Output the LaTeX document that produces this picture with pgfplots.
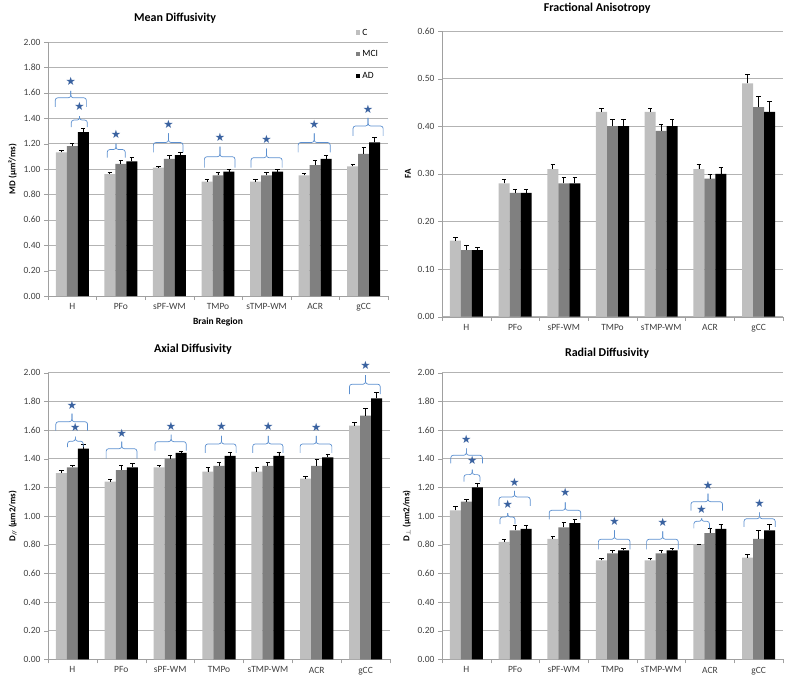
\documentclass[border=0pt]{standalone}
\usepackage{pgfplots}
\pgfplotsset{compat=1.18}
\usepackage{pgfplotstable}
\usepackage{fontspec}
\setmainfont{Carlito}
\newfontfamily\starfont{DejaVu Sans}
\definecolor{cC}{HTML}{BFBFBF}
\definecolor{cM}{HTML}{808080}
\definecolor{cA}{HTML}{000000}
\definecolor{bracecol}{HTML}{5B8FCF}
\definecolor{starcol}{HTML}{3A62A0}
\definecolor{gridcol}{HTML}{B3B3B3}
\definecolor{axiscol}{HTML}{A0A0A0}
\definecolor{tickcol}{HTML}{404040}

% x C Ce M Me A Ae
\pgfplotstableread{
x C Ce M Me A Ae
0 1.13 0.015 1.18 0.02 1.29 0.028
1 0.96 0.012 1.04 0.028 1.06 0.028
2 1.01 0.010 1.08 0.030 1.11 0.022
3 0.90 0.017 0.95 0.020 0.98 0.020
4 0.90 0.017 0.95 0.020 0.98 0.020
5 0.95 0.012 1.03 0.038 1.08 0.030
6 1.02 0.018 1.12 0.052 1.21 0.040
}\mdtab
\pgfplotstableread{
x C Ce M Me A Ae
0 0.16 0.006 0.14 0.009 0.14 0.005
1 0.28 0.008 0.26 0.008 0.26 0.008
2 0.31 0.009 0.28 0.013 0.28 0.012
3 0.43 0.008 0.40 0.015 0.40 0.015
4 0.43 0.008 0.39 0.014 0.40 0.015
5 0.31 0.009 0.29 0.009 0.30 0.014
6 0.49 0.019 0.44 0.022 0.43 0.022
}\fatab
\pgfplotstableread{
x C Ce M Me A Ae
0 1.30 0.020 1.34 0.015 1.47 0.030
1 1.24 0.016 1.32 0.031 1.34 0.028
2 1.34 0.010 1.40 0.026 1.44 0.014
3 1.31 0.027 1.35 0.022 1.42 0.027
4 1.31 0.027 1.35 0.022 1.42 0.027
5 1.26 0.019 1.35 0.046 1.41 0.023
6 1.63 0.021 1.70 0.052 1.82 0.043
}\adtab
\pgfplotstableread{
x C Ce M Me A Ae
0 1.04 0.025 1.10 0.017 1.20 0.028
1 0.82 0.017 0.90 0.032 0.91 0.027
2 0.84 0.015 0.92 0.033 0.95 0.027
3 0.69 0.015 0.74 0.020 0.76 0.015
4 0.69 0.015 0.74 0.020 0.76 0.015
5 0.80 0.005 0.88 0.036 0.91 0.034
6 0.71 0.024 0.84 0.057 0.90 0.042
}\rdtab

% brace: x1, xc, x2, ybase, hmid(pt), htip(pt)
\newcommand{\brc}[6]{%
  \draw[bracecol, line width=0.7pt, rounded corners=2.5pt]
    (axis cs:#1,#4) -- ([yshift=#5pt]axis cs:#1,#4) -- ([yshift=#5pt]axis cs:#2,#4) -- ([yshift=#6pt]axis cs:#2,#4);
  \draw[bracecol, line width=0.7pt, rounded corners=2.5pt]
    (axis cs:#3,#4) -- ([yshift=#5pt]axis cs:#3,#4) -- ([yshift=#5pt]axis cs:#2,#4) -- ([yshift=#6pt]axis cs:#2,#4);
}

\pgfplotsset{
  panel/.style={
    scale only axis, anchor=south west,
    xmin=-0.5, xmax=6.5, ymin=0,
    xtick={0,...,6}, xticklabels={H,PFo,sPF-WM,TMPo,sTMP-WM,ACR,gCC},
    major x tick style={draw=none},
    minor xtick={-0.5,0.5,...,6.5},
    minor x tick style={axiscol},
    minor tick length=4pt, major tick length=4pt,
    tick align=outside, ytick style={axiscol},
    axis x line*=bottom, axis y line*=left,
    axis line style={axiscol, -},
    ymajorgrids, grid style={gridcol, line width=0.6pt},
    ticklabel style={font=\fontsize{9.5}{11}\selectfont, text=tickcol},
    /pgf/number format/assume math mode=true,
    yticklabel style={/pgf/number format/.cd, fixed, fixed zerofill, precision=2},
    title style={font=\fontsize{12}{14}\selectfont\bfseries, anchor=base},
    ylabel style={font=\fontsize{9}{10}\selectfont\bfseries},
    xlabel style={font=\fontsize{9.5}{11}\selectfont\bfseries},
    clip=false,
    error bars/error bar style={black, line width=0.8pt},
    error bars/error mark options={black, line width=0.8pt, mark size=2.2pt, rotate=90},
  },
  bC/.style={ybar, bar width=0.226, bar shift=0pt, fill=cC, draw=none, error bars/.cd, y dir=plus, y explicit},
  bM/.style={ybar, bar width=0.226, bar shift=0pt, fill=cM, draw=none, error bars/.cd, y dir=plus, y explicit},
  bA/.style={ybar, bar width=0.226, bar shift=0pt, fill=cA, draw=none, error bars/.cd, y dir=plus, y explicit},
  stars/.style={only marks, mark=text, forget plot,
    text mark={\textcolor{starcol}{\starfont\fontsize{11.5}{11.5}\selectfont ★}}},
}

\begin{document}
\begin{tikzpicture}
\useasboundingbox (0,0) rectangle (795pt,-685pt);

% ---------------- Mean Diffusivity
\begin{axis}[panel, at={(48pt,-296pt)}, width=340pt, height=254pt,
  ymax=2, ytick distance=0.2,
  title={Mean Diffusivity}, title style={at={(0.374,1)}, yshift=15pt},
  ylabel={MD (µm²/ms)}, xlabel={Brain Region},
  legend cell align=left,
  legend style={at={(0.905,1.06)}, anchor=north west, draw=none, fill=none,
    font=\fontsize{9.5}{10}\selectfont, row sep=10pt, inner sep=0pt},
  legend image code/.code={\fill[#1,draw=none] (0pt,-2pt) rectangle (4.5pt,2.5pt);},
]
\addplot[bC] table[x expr=\thisrow{x}-0.226, y=C, y error=Ce]{\mdtab};
\addplot[bM] table[x=x, y=M, y error=Me]{\mdtab};
\addplot[bA] table[x expr=\thisrow{x}+0.226, y=A, y error=Ae]{\mdtab};
\legend{C,MCI,AD}
\brc{-0.35}{-0.03}{0.29}{1.49}{9}{16}
\brc{-0.02}{0.15}{0.31}{1.33}{7}{11}
\brc{0.72}{0.90}{1.09}{1.09}{8}{14}
\brc{1.67}{1.98}{2.28}{1.13}{10}{19}
\brc{2.72}{3.04}{3.35}{1.01}{11}{21}
\brc{3.68}{4.00}{4.32}{1.01}{10}{19}
\brc{4.65}{4.98}{5.31}{1.13}{10}{19}
\brc{5.78}{6.09}{6.40}{1.26}{10}{18}
\addplot[stars] coordinates {(-0.03,1.69) (0.15,1.49) (0.90,1.27) (1.98,1.35) (3.04,1.25) (4.00,1.23) (4.98,1.35) (6.09,1.47)};
\end{axis}

% ---------------- Fractional Anisotropy
\begin{axis}[panel, at={(442pt,-316.7pt)}, width=341pt, height=285.7pt,
  ymax=0.6, ytick distance=0.1,
  title={Fractional Anisotropy}, title style={at={(0.455,1)}, yshift=14pt},
  ylabel={FA},
]
\addplot[bC] table[x expr=\thisrow{x}-0.226, y=C, y error=Ce]{\fatab};
\addplot[bM] table[x=x, y=M, y error=Me]{\fatab};
\addplot[bA] table[x expr=\thisrow{x}+0.226, y=A, y error=Ae]{\fatab};
\end{axis}

% ---------------- Axial Diffusivity
\begin{axis}[panel, at={(48pt,-659.3pt)}, width=342pt, height=286.6pt,
  ymax=2, ytick distance=0.2,
  title={Axial Diffusivity}, title style={at={(0.424,1)}, yshift=14pt},
  ylabel={D\textsubscript{//} (µm2/ms)},
]
\addplot[bC] table[x expr=\thisrow{x}-0.226, y=C, y error=Ce]{\adtab};
\addplot[bM] table[x=x, y=M, y error=Me]{\adtab};
\addplot[bA] table[x expr=\thisrow{x}+0.226, y=A, y error=Ae]{\adtab};
\brc{-0.34}{-0.01}{0.31}{1.595}{9}{17}
\brc{-0.10}{0.06}{0.22}{1.48}{6}{10.5}
\brc{0.69}{1.01}{1.32}{1.40}{10}{17}
\brc{1.69}{2.02}{2.33}{1.456}{9}{16}
\brc{2.72}{3.05}{3.35}{1.44}{9}{17}
\brc{3.69}{4.01}{4.31}{1.44}{9}{17}
\brc{4.66}{4.99}{5.31}{1.44}{9}{17}
\brc{5.67}{6.00}{6.30}{1.85}{10}{19}
\addplot[stars] coordinates {(-0.01,1.775) (0.06,1.616) (1.01,1.58) (2.02,1.628) (3.05,1.623) (4.01,1.623) (4.99,1.62) (6.00,2.05)};
\end{axis}

% ---------------- Radial Diffusivity
\begin{axis}[panel, at={(442pt,-659.3pt)}, width=341pt, height=286.6pt,
  ymax=2, ytick distance=0.2,
  title={Radial Diffusivity}, title style={at={(0.484,1)}, yshift=10pt},
  ylabel={D$_{\perp}$ (µm2/ms)},
]
\addplot[bC] table[x expr=\thisrow{x}-0.226, y=C, y error=Ce]{\rdtab};
\addplot[bM] table[x=x, y=M, y error=Me]{\rdtab};
\addplot[bA] table[x expr=\thisrow{x}+0.226, y=A, y error=Ae]{\rdtab};
\brc{-0.32}{0.00}{0.33}{1.368}{8}{15}
\brc{-0.05}{0.12}{0.28}{1.24}{7}{12}
\brc{0.67}{0.99}{1.31}{1.07}{9}{15}
\brc{0.69}{0.85}{1.00}{0.944}{7}{11}
\brc{1.70}{2.03}{2.35}{0.977}{9}{17}
\brc{2.71}{3.04}{3.36}{0.768}{10}{19}
\brc{3.70}{4.03}{4.35}{0.768}{10}{18}
\brc{4.61}{4.96}{5.26}{1.037}{9}{17}
\brc{4.67}{4.83}{4.99}{0.914}{7}{10}
\brc{5.70}{6.02}{6.34}{0.925}{8}{14.5}
\addplot[stars] coordinates {(0.00,1.535) (0.12,1.386) (0.99,1.237) (0.85,1.084) (2.03,1.163) (3.04,0.965) (4.03,0.956) (4.96,1.217) (4.83,1.047) (6.02,1.089)};
\end{axis}
\end{tikzpicture}
\end{document}
